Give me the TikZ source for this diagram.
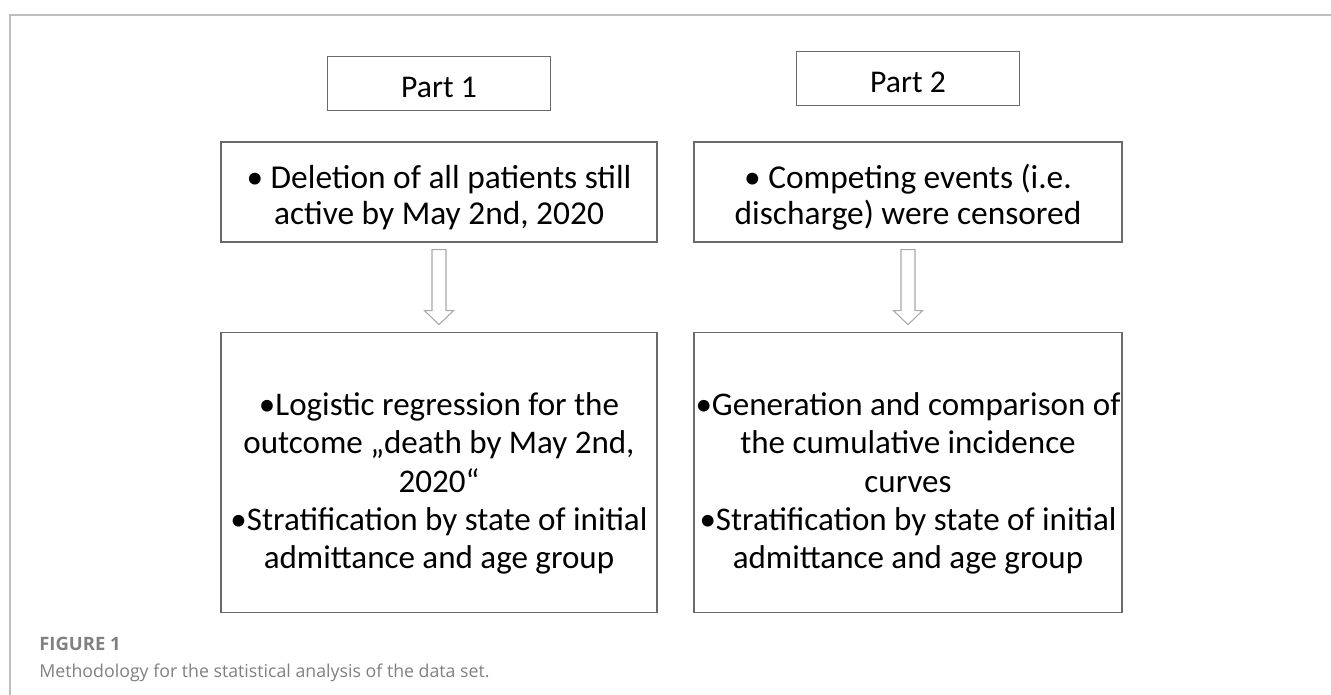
\documentclass[tikz,border=0pt]{standalone}
\usepackage{fontspec}
\setmainfont{Carlito}
\newfontfamily\capfont{Open Sans}
\usetikzlibrary{calc, positioning}

\definecolor{boxline}{HTML}{6A6A6A}
\definecolor{arrowline}{HTML}{A8A8A8}
\definecolor{frameline}{HTML}{BEBEBE}
\definecolor{capgray}{HTML}{808080}

\tikzset{
  box/.style    = {draw=boxline, line width=0.75pt, inner sep=0pt, align=center},
  partbox/.style= {box, minimum width=4.45cm, minimum height=1.08cm, font=\fontsize{18}{20}\selectfont,
                   execute at begin node={\rule{0pt}{16pt}}},
  topbox/.style = {box, minimum height=2cm, font=\fontsize{19}{20.5}\selectfont,
                   execute at begin node={\rule{0pt}{40.6pt}}},
  lowbox/.style = {box, minimum height=5.6cm, font=\fontsize{18.8}{21.8}\selectfont,
                   execute at begin node={\rule{0pt}{112.9pt}}},
  hollow/.style = {draw=arrowline, fill=white, line width=0.6pt, line join=miter},
}

\begin{document}
\begin{tikzpicture}[x=0.02cm, y=-0.02cm]
\useasboundingbox (0,0) rectangle (1331,695);

% frame of the figure
\draw [frameline, line width=1.1pt] (10,695) -- (10,15) -- (1331,15);

\node [topbox, minimum width=8.72cm] (dele) at (439,192) {• Deletion of all patients still\\active by May 2nd, 2020};
\node [topbox, minimum width=8.56cm] (comp) at (908,192) {• Competing events (i.e.\\discharge) were censored};

\node [partbox, above=0.6cm of dele] (part1) {Part 1};
\node [partbox, above=0.7cm of comp] (part2) {Part 2};

\node [lowbox, minimum width=8.72cm, below=1.78cm of dele] (logi) {•Logistic regression for the\\outcome „death by May 2nd,\\2020“\\•Stratification by state of initial\\admittance and age group};
\node [lowbox, minimum width=8.56cm, below=1.78cm of comp] (gene) {•Generation and comparison of\\the cumulative incidence\\curves\\•Stratification by state of initial\\admittance and age group};

% hollow block arrows
\draw [hollow] ($(dele.south)+(-7,7)$) -- ($(logi.north)+(-7,-21)$) -- ($(logi.north)+(-14.5,-21)$) -- ($(logi.north)+(0,-7)$)
  -- ($(logi.north)+(14.5,-21)$) -- ($(logi.north)+(7,-21)$) -- ($(dele.south)+(7,7)$) -- cycle;
\draw [hollow] ($(comp.south)+(-7,7)$) -- ($(gene.north)+(-7,-21)$) -- ($(gene.north)+(-14.5,-21)$) -- ($(gene.north)+(0,-7)$)
  -- ($(gene.north)+(14.5,-21)$) -- ($(gene.north)+(7,-21)$) -- ($(comp.south)+(7,7)$) -- cycle;

% caption
\node [anchor=base west, inner sep=0pt, text=capgray, font=\capfont\fontsize{10.5}{12}\selectfont\bfseries] (figlabel) at (39,650) {FIGURE 1};
\node [anchor=base west, inner sep=0pt, text=capgray, font=\capfont\fontsize{10.1}{12}\selectfont] (caption) at (39,677) {Methodology for the statistical analysis of the data set.};

\end{tikzpicture}
\end{document}
